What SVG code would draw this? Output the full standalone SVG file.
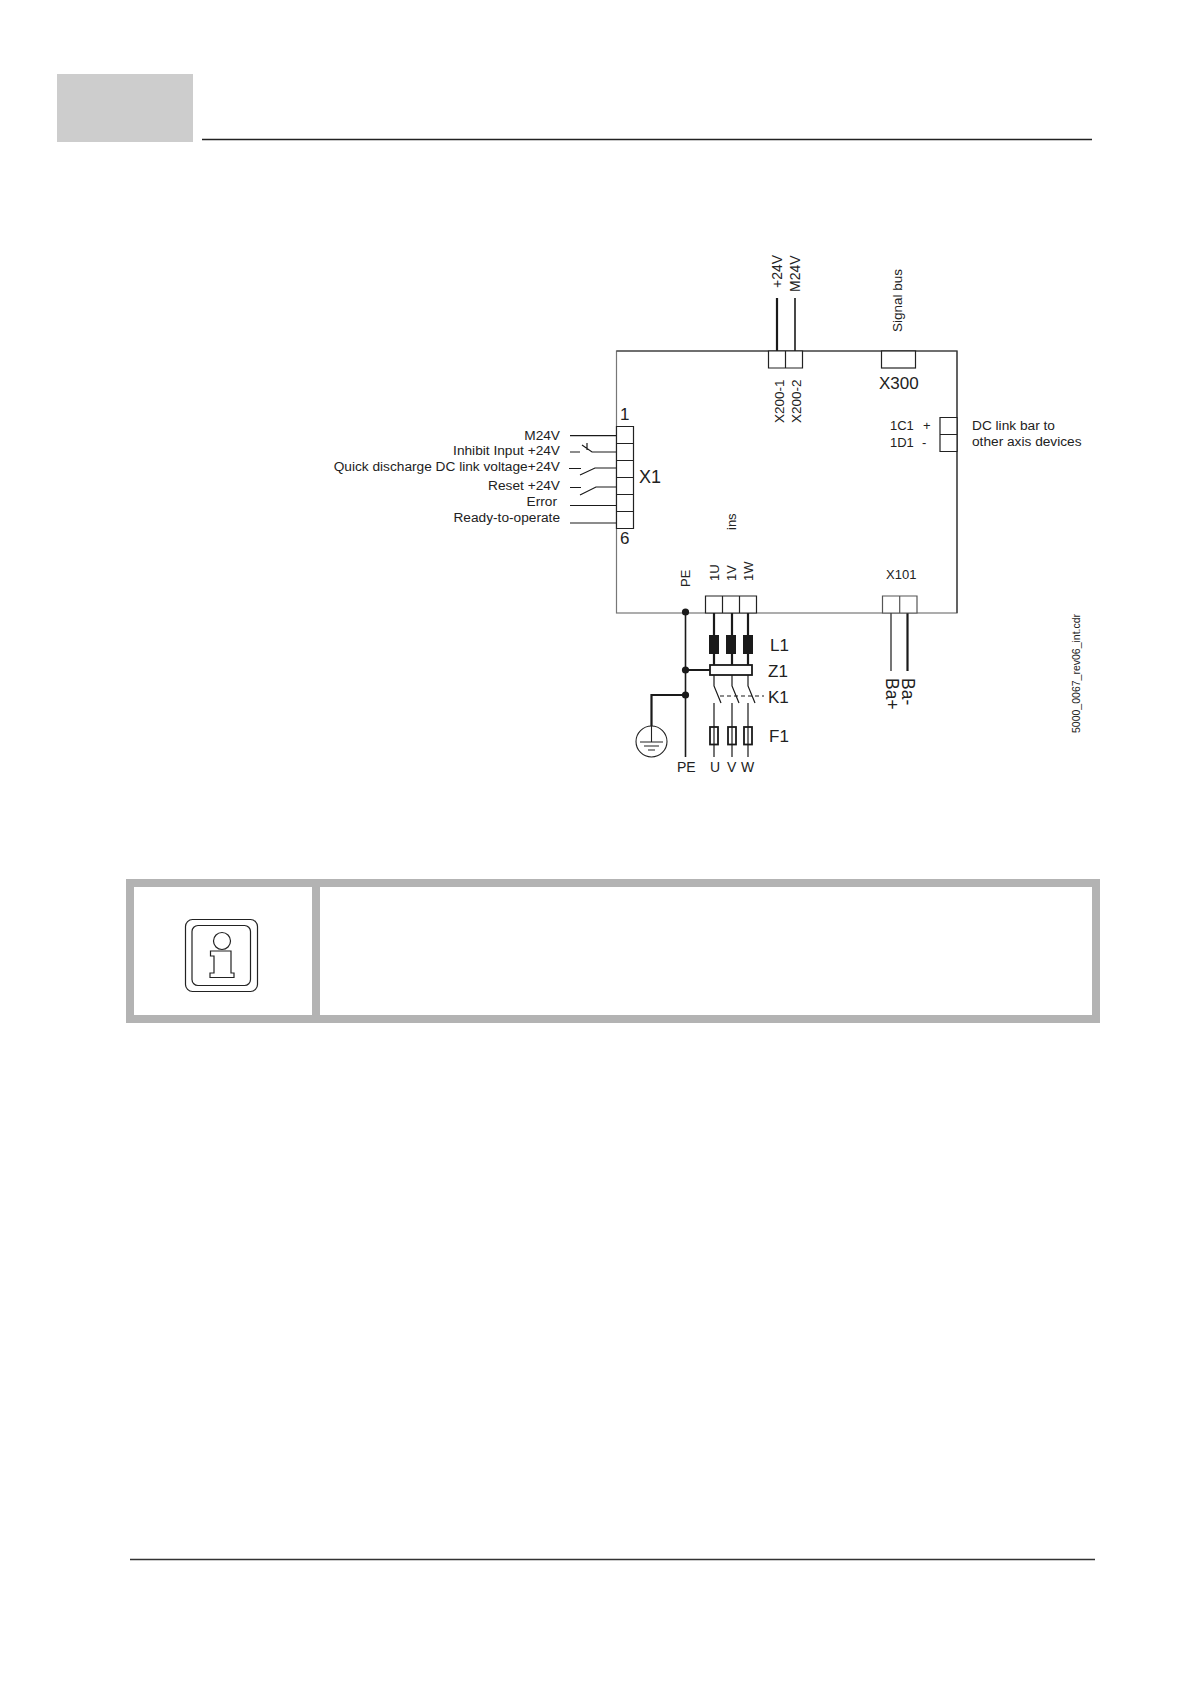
<svg xmlns="http://www.w3.org/2000/svg" width="1190" height="1684" viewBox="0 0 1190 1684">
<style>
text{font-family:"Liberation Sans",Arial,sans-serif;fill:#222}
.s{font-size:13px}.r{font-size:13.700px}.h{font-size:13.500px}.m{font-size:14px}.l{font-size:17px}
.e{text-anchor:end}
.w{fill:none;stroke:#1a1a1a;stroke-width:1.2}
.t{fill:none;stroke:#1a1a1a;stroke-width:2.2}
.n{fill:none;stroke:#222;stroke-width:1.1}
.box{fill:#fff;stroke:#222;stroke-width:1.2}
.d{fill:#1a1a1a}
</style>
<rect width="1190" height="1684" fill="#fff"/>
<g id="page-header"><rect x="57" y="74" width="136" height="68" fill="#cdcdcd"/><path d="M202 139.5H1092" stroke="#222" stroke-width="1.4"/></g>
<g id="page-footer"><path d="M130 1559.5H1095" stroke="#333" stroke-width="1.3"/></g>

<g id="device"><rect x="616.5" y="351" width="340.5" height="262" fill="#fff" stroke="#777" stroke-width="1.2"/><path d="M616.5 351H957V613" fill="none" stroke="#333" stroke-width="1.2"/><text class="s" transform="translate(736 530) rotate(-90)">ins</text></g>

<g id="connectors">
<path class="w" d="M570 435.700H616.500M570 505.500H616.500M570 523H616.500"/>
<path class="w" d="M570 452H580M582 445L592 452H616.500M587 443V450"/>
<path class="w" d="M569 468.500H581M580 475L595 468H616.500"/>
<path class="w" d="M570 487.500H581M580 495L596 487H616.500"/>
<path class="t" d="M777 298V351"/><path class="w" style="stroke-width:1.600" d="M795 298V351"/>
<path class="w" d="M891 613V671"/><path class="t" d="M907.500 613V671"/>
<path class="t" d="M714 613V665M732 613V665M748 613V665M685 670H710"/>
<path class="w" style="stroke-width:1.600" d="M685.500 612V757"/>
<path class="t" d="M685 695H651.500V726"/>
<path class="w" d="M714 675V686L721 703M732 675V686L739 703M748 675V686L755 703"/>
<path class="w" d="M720 696H764" stroke-dasharray="4 3"/>
<path class="w" d="M714 703V757M732 703V757M748 703V757"/>
<circle class="d" cx="685.500" cy="612" r="3.600"/><circle class="d" cx="685.500" cy="670" r="3.600"/><circle class="d" cx="685.500" cy="695" r="3.600"/>
</g>

<g id="X1"><path class="box" d="M616.500 426.500H633.500V528.500H616.500ZM616.500 443.500H633.500M616.500 460.500H633.500M616.500 477.500H633.500M616.500 494.500H633.500M616.500 511.500H633.500"/>
<text class="l" x="620" y="420">1</text><text class="l" x="620" y="544">6</text><text x="639" y="483" font-size="18">X1</text>
<text class="r e" x="560" y="440">M24V</text><text class="r e" x="560" y="455">Inhibit Input +24V</text><text class="r e" x="560" y="471">Quick discharge DC link voltage+24V</text><text class="r e" x="560" y="490">Reset +24V</text><text class="r e" x="557" y="506">Error</text><text class="r e" x="560" y="522">Ready-to-operate</text></g>

<g id="X200"><path class="box" d="M768.500 351H802.500V368H768.500ZM785.500 351V368"/>
<text class="m" transform="translate(782 288) rotate(-90)">+24V</text><text class="m" transform="translate(800 292) rotate(-90)">M24V</text>
<text class="h" transform="translate(784 423) rotate(-90)">X200-1</text><text class="h" transform="translate(800.500 423) rotate(-90)">X200-2</text></g>

<g id="X300"><rect class="box" x="881.500" y="351" width="34" height="17"/>
<text class="h" transform="translate(902 332) rotate(-90)">Signal bus</text><text class="l" x="879" y="389">X300</text></g>

<g id="DC-link"><path class="box" d="M940 417.500H957V451.500H940ZM940 434.500H957"/>
<text class="s" x="890" y="430">1C1</text><text class="s" x="923" y="430">+</text><text class="s" x="890" y="447">1D1</text><text class="s" x="922" y="447">-</text>
<text class="r" x="972" y="430">DC link bar to</text><text class="r" x="972" y="446">other axis devices</text></g>

<g id="X101"><path d="M882.500 596H917V613H882.500ZM899.700 596V613" fill="#fff" stroke="#555" stroke-width="1.200"/>
<text class="s" x="886" y="579">X101</text>
<text font-size="17.500" transform="translate(885.500 678) rotate(90)">Ba+</text><text font-size="17.500" transform="translate(902 678) rotate(90)">Ba-</text></g>

<g id="power-terminals"><path class="box" d="M705.500 596H756.500V613H705.500ZM722.500 596V613M739.500 596V613"/>
<text class="s" transform="translate(690 587) rotate(-90)">PE</text><text class="s" transform="translate(719 581) rotate(-90)">1U</text><text class="s" transform="translate(736 581) rotate(-90)">1V</text><text class="s" transform="translate(753 581) rotate(-90)">1W</text></g>

<g id="L1"><rect class="d" x="709" y="635" width="10" height="19"/><rect class="d" x="726" y="635" width="10" height="19"/><rect class="d" x="743" y="635" width="10" height="19"/><text class="l" x="770" y="651">L1</text></g>
<g id="Z1"><rect x="710" y="665" width="42" height="10" fill="#fff" stroke="#1a1a1a" stroke-width="1.800"/><text class="l" x="768" y="677">Z1</text></g>
<g id="K1"><text class="l" x="768" y="703">K1</text></g>
<g id="F1"><rect x="710" y="727" width="8" height="17.500" fill="none" stroke="#1a1a1a" stroke-width="1.800"/><rect x="728" y="727" width="8" height="17.500" fill="none" stroke="#1a1a1a" stroke-width="1.800"/><rect x="744" y="727" width="8" height="17.500" fill="none" stroke="#1a1a1a" stroke-width="1.800"/><text class="l" x="769" y="742">F1</text></g>
<g id="earth"><circle class="n" cx="651.500" cy="741.500" r="15.500"/><path class="n" d="M651.500 726V742M640 742H663M644 746H659M648 750H655"/></g>
<g id="bottom-labels"><text class="m" x="677" y="772">PE</text><text class="m" x="710" y="772">U</text><text class="m" x="727" y="772">V</text><text class="m" x="741" y="772">W</text>
<text font-size="10.500" transform="translate(1080 733) rotate(-90)">5000_0067_rev06_int.cdr</text></g>

<g id="info-box"><rect x="130" y="883" width="966" height="136" fill="#fff" stroke="#b3b3b3" stroke-width="8"/><path d="M316 883V1019" stroke="#b3b3b3" stroke-width="8"/>
<g id="info-icon" fill="none" stroke="#222" stroke-width="1.200"><rect x="185.500" y="919.500" width="72" height="72" rx="7"/><rect x="192" y="925.500" width="58.500" height="60" rx="6"/><circle cx="222" cy="941" r="8.500"/><path d="M210.500 951H231V973H234V977.500H210V973H214V956H210.500Z"/></g></g>
</svg>
